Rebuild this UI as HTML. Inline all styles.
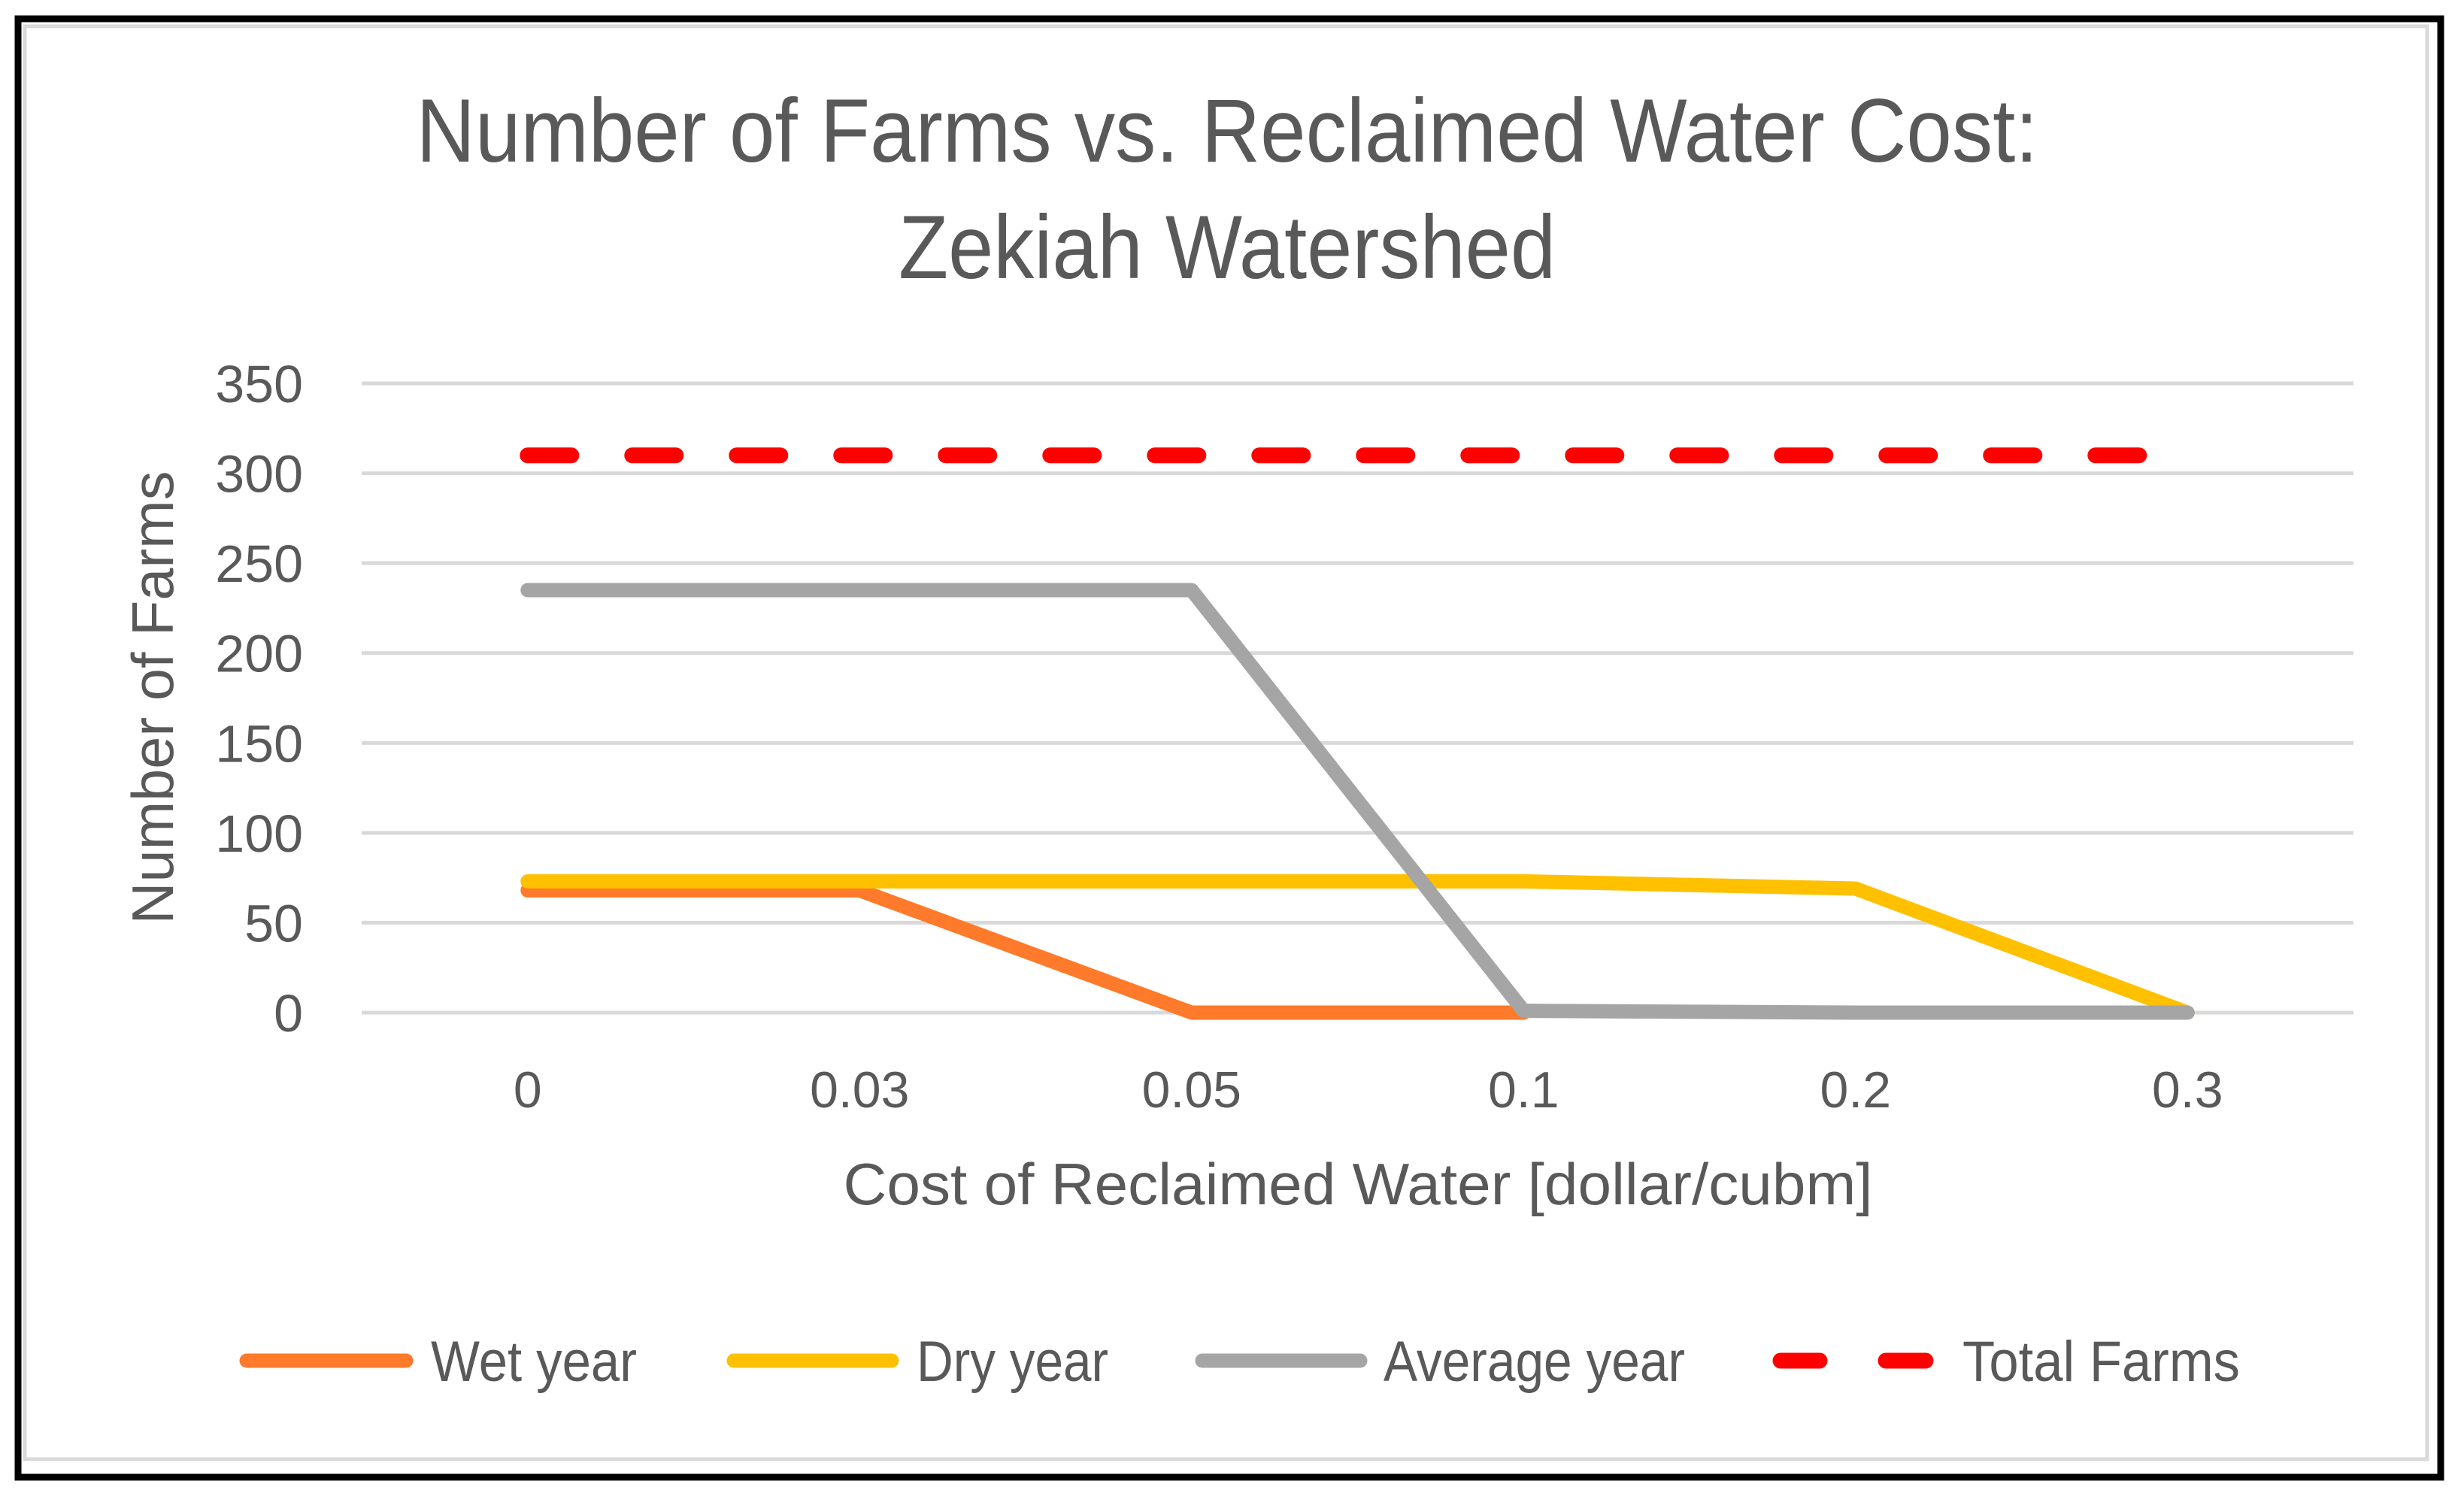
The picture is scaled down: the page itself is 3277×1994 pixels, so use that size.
<!DOCTYPE html>
<html><head><meta charset="utf-8"><style>
html,body{margin:0;padding:0;background:#fff;}
svg{display:block;}
text{font-family:"Liberation Sans",sans-serif;fill:#595959;}
</style></head><body>
<svg id="chart" width="3277" height="1994" viewBox="0 0 3277 1994" xmlns="http://www.w3.org/2000/svg">
<rect x="0" y="0" width="3277" height="1994" fill="#fff"/>
<rect x="24" y="25" width="3222" height="1940" fill="none" stroke="#000" stroke-width="9"/>
<rect x="33" y="35" width="3195" height="1906" fill="none" stroke="#d9d9d9" stroke-width="5"/>
<text x="1632" y="215" font-size="120" text-anchor="middle" textLength="2157" lengthAdjust="spacingAndGlyphs">Number of Farms vs. Reclaimed Water Cost:</text>
<text x="1632" y="370" font-size="120" text-anchor="middle" textLength="874" lengthAdjust="spacingAndGlyphs">Zekiah Watershed</text>
<g id="grid"></g>
<g id="yticks"></g>
<g id="xticks"></g>
<g id="series"></g>
<text transform="translate(230,928) rotate(-90)" font-size="78" text-anchor="middle" textLength="603" lengthAdjust="spacingAndGlyphs">Number of Farms</text>
<text x="1806" y="1602" font-size="78" text-anchor="middle" textLength="1369" lengthAdjust="spacingAndGlyphs">Cost of Reclaimed Water [dollar/cubm]</text>
<g>
<g>
<line x1="328" y1="1810" x2="540" y2="1810" stroke="#FF7A2A" stroke-width="19" stroke-linecap="round"/>
<text x="573" y="1837" font-size="76" textLength="274" lengthAdjust="spacingAndGlyphs">Wet year</text></g>
<g>
<line x1="976" y1="1810" x2="1186" y2="1810" stroke="#FFC000" stroke-width="19" stroke-linecap="round"/>
<text x="1219" y="1837" font-size="76" textLength="255" lengthAdjust="spacingAndGlyphs">Dry year</text></g>
<g>
<line x1="1599" y1="1810" x2="1809" y2="1810" stroke="#A5A5A5" stroke-width="19" stroke-linecap="round"/>
<text x="1840" y="1837" font-size="76" textLength="401" lengthAdjust="spacingAndGlyphs">Average year</text></g>
<g>
<line x1="2368" y1="1810" x2="2420" y2="1810" stroke="#FF0000" stroke-width="21" stroke-linecap="round"/>
<line x1="2508" y1="1810" x2="2561" y2="1810" stroke="#FF0000" stroke-width="21" stroke-linecap="round"/>
<text x="2610" y="1837" font-size="76" textLength="369" lengthAdjust="spacingAndGlyphs">Total Farms</text></g>
</g>
</svg>
<script>
const categories = ["0", "0.03", "0.05", "0.1", "0.2", "0.3"];
const yTicks = [0, 50, 100, 150, 200, 250, 300, 350];
const wetYear = [68, 68, 0, 0, null, null];
const dryYear = [73, 73, 73, 73, 69, 0];
const averageYear = [235, 235, 235, 1, 0, 0];
const totalFarms = [310, 310, 310, 310, 310, 310];

const NS = "http://www.w3.org/2000/svg";
const plotL = 481, plotR = 3130, y0 = 1347, y350 = 510, yMax = 350;
const band = (plotR - plotL) / categories.length;
function xPos(i){ return plotL + band * (i + 0.5); }
function yPos(v){ return y0 - (v / yMax) * (y0 - y350); }

const grid = document.getElementById('grid');
const yt = document.getElementById('yticks');
yTicks.forEach(v => {
  const l = document.createElementNS(NS, 'line');
  l.setAttribute('x1', plotL); l.setAttribute('x2', plotR);
  l.setAttribute('y1', yPos(v)); l.setAttribute('y2', yPos(v));
  l.setAttribute('stroke', '#d9d9d9'); l.setAttribute('stroke-width', '5');
  
  
  grid.appendChild(l);
  const t = document.createElementNS(NS, 'text');
  t.setAttribute('x', 403); t.setAttribute('y', yPos(v) + 25);
  t.setAttribute('font-size', '70'); t.setAttribute('text-anchor', 'end');
  t.textContent = v;
  
  
  yt.appendChild(t);
});
const xt = document.getElementById('xticks');
categories.forEach((c, i) => {
  const t = document.createElementNS(NS, 'text');
  t.setAttribute('x', xPos(i)); t.setAttribute('y', 1473);
  t.setAttribute('font-size', '68'); t.setAttribute('text-anchor', 'middle');
  t.textContent = c;
  
  
  xt.appendChild(t);
});
const sg = document.getElementById('series');
function drawSeries(vals, color, name, dash, width){
  let d = '', started = false;
  vals.forEach((v, i) => {
    if (v === null) { started = false; return; }
    d += (started ? 'L' : 'M') + xPos(i).toFixed(1) + ' ' + yPos(v).toFixed(1) + ' ';
    started = true;
  });
  const p = document.createElementNS(NS, 'path');
  p.setAttribute('d', d);
  p.setAttribute('fill', 'none');
  p.setAttribute('stroke', color);
  p.setAttribute('stroke-width', width);
  p.setAttribute('stroke-linecap', 'round');
  p.setAttribute('stroke-linejoin', 'round');
  if (dash) p.setAttribute('stroke-dasharray', dash);
  
  
  sg.appendChild(p);
}
drawSeries(wetYear, '#FF7A2A', 'wet-year-line', null, 19);
drawSeries(dryYear, '#FFC000', 'dry-year-line', null, 19);
drawSeries(averageYear, '#A5A5A5', 'average-year-line', null, 19);
drawSeries(totalFarms, '#FF0000', 'total-farms-line', '58 81', 21);
</script>
</body></html>
